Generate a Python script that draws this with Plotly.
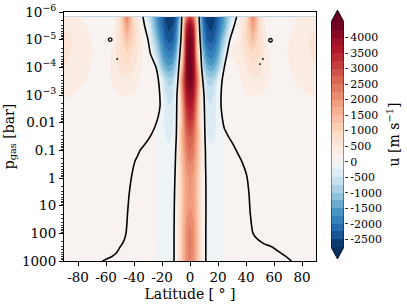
import numpy as np
import plotly.graph_objects as go

# ---------------- data ----------------
lat = [-90, -85, -80, -75, -70, -65, -60, -55, -50, -45, -40, -35, -30, -25, -20,
       -17.5, -15, -12.5, -10, -7.5, -5, -2.5, 0, 2.5, 5, 7.5, 10, 12.5, 15, 17.5,
       20, 25, 30, 35, 40, 45, 50, 55, 60, 65, 70, 75, 80, 85, 90]

p_bar = [1.5e-6, 3e-6, 1e-5, 3e-5, 1e-4, 3e-4, 1e-3, 3e-3, 1e-2, 3e-2,
         0.1, 0.3, 1, 10, 100, 1000]

# zonal wind u [m/s], one row per pressure level, one column per latitude
u_wind = [
    [350, 330, 280, 220, 150, 100, 80, 60, 700, 2300, 650, 150, -500, -1400, -2200, -2550, -2700, -2650, -2300, -1300, 600, 2400, 3100,
     2400, 1000, -1300, -2300, -2650, -2700, -2550, -2200, -1400, -450, 150, 650, 2300, 700, 60, 80, 100, 150, 220, 280, 330, 350],
    [450, 400, 330, 260, 180, 100, 80, 100, 750, 1900, 800, 200, -250, -1300, -2100, -2450, -2600, -2500, -2100, -1000, 900, 3300, 4000,
     3300, 1100, -1000, -2100, -2500, -2600, -2450, -2100, -1300, -200, 200, 800, 1900, 750, 100, 80, 100, 180, 260, 330, 400, 450],
    [700, 500, 380, 300, 240, 150, 80, 200, 750, 1350, 900, 300, -20, -900, -1800, -2200, -2350, -2250, -1800, -800, 1200, 3900, 4400,
     3900, 1300, -800, -1800, -2250, -2350, -2200, -1800, -800, 200, 300, 900, 1350, 750, 200, 80, 150, 240, 300, 380, 500, 700],
    [650, 480, 380, 320, 260, 180, 120, 300, 750, 950, 700, 270, 200, -500, -1500, -1800, -1950, -1850, -1400, -250, 1400, 4000, 4450,
     4000, 1500, -250, -1400, -1850, -1950, -1800, -1500, -300, 250, 300, 700, 950, 750, 300, 120, 180, 260, 320, 380, 480, 650],
    [500, 420, 350, 300, 230, 150, 150, 320, 580, 680, 520, 260, 150, 100, -1000, -1350, -1450, -1350, -900, 300, 2000, 4100, 4500,
     4100, 2200, 300, -900, -1350, -1450, -1350, -1000, 100, 150, 260, 520, 680, 580, 320, 150, 150, 230, 300, 350, 420, 500],
    [400, 350, 300, 260, 180, 120, 130, 290, 420, 440, 370, 210, 150, 150, -250, -700, -850, -800, -300, 900, 2600, 4000, 4400,
     4000, 2600, 900, -300, -800, -850, -700, -250, 150, 150, 210, 370, 440, 420, 290, 130, 120, 180, 260, 300, 350, 400],
    [280, 260, 220, 180, 130, 100, 100, 200, 250, 250, 240, 150, 120, 120, -100, -450, -600, -550, -150, 700, 2300, 3700, 4000,
     3700, 2300, 700, -50, -550, -600, -450, -100, 120, 120, 150, 240, 250, 250, 200, 100, 100, 130, 180, 220, 260, 280],
    [100, 100, 100, 100, 100, 100, 100, 100, 100, 100, 100, 100, 100, 100, -80, -350, -450, -400, -100, 600, 2000, 3300, 3600,
     3300, 2000, 600, -80, -400, -450, -350, -80, 100, 100, 100, 100, 100, 100, 100, 100, 100, 100, 100, 100, 100, 100],
    [100, 100, 100, 100, 100, 100, 100, 100, 100, 100, 100, 100, 100, 60, -150, -300, -350, -300, -50, 600, 1800, 2900, 3200,
     2900, 1800, 600, -30, -300, -350, -300, -150, 60, 100, 100, 100, 100, 100, 100, 100, 100, 100, 100, 100, 100, 100],
    [100, 100, 100, 100, 100, 100, 100, 100, 100, 100, 100, 100, 100, 40, -150, -250, -280, -250, -100, 900, 1800, 2550, 2800,
     2550, 1800, 900, -80, -250, -280, -250, -150, 40, 100, 100, 100, 100, 100, 100, 100, 100, 100, 100, 100, 100, 100],
    [100, 100, 100, 100, 100, 100, 100, 100, 100, 100, 100, 100, 100, 50, -150, -200, -220, -200, 20, 850, 1650, 2300, 2500,
     2300, 1650, 850, 60, -200, -220, -200, -150, 50, 100, 100, 100, 100, 100, 100, 100, 100, 100, 100, 100, 100, 100],
    [100, 100, 100, 100, 100, 100, 100, 100, 100, 100, 100, 100, 100, 50, -150, -180, -190, -180, 60, 800, 1500, 2100, 2250,
     2100, 1500, 800, 80, -180, -190, -180, -150, 50, 100, 100, 100, 100, 100, 100, 100, 100, 100, 100, 100, 100, 100],
    [100, 100, 100, 100, 100, 100, 100, 100, 100, 100, 100, 100, 100, 50, -150, -170, -170, -150, 100, 720, 1350, 1900, 2050,
     1900, 1350, 720, 110, -150, -170, -170, -150, 50, 100, 100, 100, 100, 100, 100, 100, 100, 100, 100, 100, 100, 100],
    [100, 100, 100, 100, 100, 100, 100, 100, 100, 100, 100, 100, 100, 50, -150, -170, -170, -150, 130, 700, 1330, 1850, 2000,
     1850, 1330, 700, 130, -150, -170, -170, -150, 50, 100, 100, 100, 100, 100, 100, 100, 100, 100, 100, 100, 100, 100],
    [100, 100, 100, 100, 100, 100, 100, 100, 100, 100, 100, 100, 100, 50, -150, -170, -170, -150, 140, 780, 1450, 2100, 2350,
     2100, 1450, 780, 140, -150, -170, -170, -150, 50, 100, 100, 100, 100, 100, 100, 100, 100, 100, 100, 100, 100, 100],
    [100, 100, 100, 100, 100, 100, 100, 100, 100, 100, 100, 100, 100, 50, -150, -170, -170, -150, 140, 760, 1420, 2050, 2300,
     2050, 1420, 760, 140, -150, -170, -170, -150, 50, 100, 100, 100, 100, 100, 100, 100, 100, 100, 100, 100, 100, 100],
]

# black contour curves (latitude in deg, pressure in bar)
outer_left_lat = [-33.6, -32.4, -30.0, -28.3, -24.3, -22.6, -21.6, -21.4, -22.8, -25.5, -28.5, -32.5, -35.7,
                  -37.5, -39.3, -41.6, -43.5, -44.5, -45.7, -47.5, -50.0, -52.5, -56.0, -60.5, -62.5]
outer_left_p = [1.5e-6, 3.2e-6, 1e-5, 3.2e-5, 1e-4, 2.8e-4, 1e-3, 2.5e-3, 6.3e-3, 0.016, 0.032, 0.063, 0.1,
                0.16, 0.25, 0.8, 4, 16, 100, 200, 316, 500, 700, 890, 1000]
outer_right_lat = [33.3, 31.5, 28.5, 26.5, 24.5, 23.0, 22.2, 22.2, 23.0, 24.5, 27.5, 31.0, 33.0,
                   35.0, 37.0, 40.5, 42.2, 42.9, 45.0, 48.6, 53.0, 58.0, 64.5, 69.5, 72.5]
outer_right_p = [1.5e-6, 3.2e-6, 1e-5, 3.2e-5, 1e-4, 2.8e-4, 1e-3, 2.5e-3, 6.3e-3, 0.016, 0.032, 0.063, 0.1,
                 0.16, 0.25, 0.8, 4, 16, 100, 170, 240, 300, 500, 750, 1000]
inner_left_lat = [-5.9, -6.1, -6.5, -7.2, -8.0, -8.7, -9.3, -9.5, -9.6, -9.8, -10.2, -10.5, -10.8, -11.2, -11.4, -11.4]
inner_right_lat = [6.5, 6.8, 7.2, 7.8, 8.3, 9.2, 10.0, 10.3, 10.5, 10.7, 11.0, 11.1, 11.3, 11.4, 11.3, 11.3]
inner_p = [1.5e-6, 3.2e-6, 1e-5, 3.2e-5, 1e-4, 3.2e-4, 1e-3, 3.2e-3, 1e-2, 3.2e-2, 0.1, 0.32, 1, 10, 100, 1000]
loop_lat = [-57.0, 57.5]
loop_p = [1.0e-5, 1.05e-5]
dot_lat = [-52.0, 52.1, 50.0]
dot_p = [5e-5, 5e-5, 7.6e-5]

x_ticks = [-80, -60, -40, -20, 0, 20, 40, 60, 80]
x_ticktext = ["-80", "-60", "-40", "-20", "0", "20", "40", "60", "80"]
y_ticks_p = [1e-6, 1e-5, 1e-4, 1e-3, 1e-2, 0.1, 1, 10, 100, 1000]
y_ticktext = ["10<sup>−6</sup>", "10<sup>−5</sup>", "10<sup>−4</sup>", "10<sup>−3</sup>",
              "0.01", "0.1", "1", "10", "100", "1000"]
cb_ticks = [-2500, -2000, -1500, -1000, -500, 0, 500, 1000, 1500, 2000, 2500, 3000, 3500, 4000]
cb_ticktext = ["-2500", "-2000", "-1500", "-1000", "-500", "0", "500", "1000",
               "1500", "2000", "2500", "3000", "3500", "4000"]

# ---------------- styling ----------------
FONT = "DejaVu Serif"
RDBU_R = ["#053061", "#2166ac", "#4393c3", "#92c5de", "#d1e5f0", "#f7f7f7",
          "#fddbc7", "#f4a582", "#d6604d", "#b2182b", "#67001f"]
VMIN, VMAX = -2750, 4500            # colour-bar limits (outer contour levels)
LEV_STEP = 250
LEV_START, LEV_END = VMIN + LEV_STEP, VMAX - LEV_STEP   # interior levels passed to plotly


def hex2rgb(h):
    h = h.lstrip("#")
    return [int(h[i:i + 2], 16) for i in (0, 2, 4)]


def cmap(t):
    t = min(max(t, 0.0), 1.0)
    pos = t * 10
    i = min(int(pos), 9)
    f = pos - i
    a, b = hex2rgb(RDBU_R[i]), hex2rgb(RDBU_R[i + 1])
    return "rgb(%d,%d,%d)" % tuple(round(x + (y - x) * f) for x, y in zip(a, b))


def norm(v):
    return 0.5 * (1 + v / VMAX) if v >= 0 else 0.5 * (1 + v / (-VMIN))


n_bands = int(round((VMAX - VMIN) / LEV_STEP))
band_edges = [VMIN + LEV_STEP * k for k in range(n_bands + 1)]
band_mids = [VMIN + LEV_STEP * (k + 0.5) for k in range(n_bands)]
band_colors = [cmap(norm(m)) for m in band_mids]
colorscale = [[k / (n_bands - 1), c] for k, c in enumerate(band_colors)]

# pixel geometry (whole figure uses zero margins, axes placed by domain)
W, H = 407, 304
L, R, T, B = 64, 316, 12, 261          # main plot box
CB_L, CB_R, CB_T, CB_B = 331, 344, 22, 247   # colour bar rectangle
TRI = 12                                 # extension triangle height


def dom_x(a, b):
    return [a / W, b / W]


def dom_y(top, bot):
    return [(H - bot) / H, (H - top) / H]


k_px = (CB_B - CB_T) / (VMAX - VMIN)
cb_lo = VMIN - TRI / k_px
cb_hi = VMAX + TRI / k_px

y_log = np.log10(p_bar)

fig = go.Figure()
fig.add_trace(go.Contour(
    x=lat, y=y_log, z=u_wind,
    colorscale=colorscale, showscale=False,
    autocontour=False,
    contours=dict(start=LEV_START, end=LEV_END, size=LEV_STEP, coloring="fill", showlines=False),
    line=dict(width=0, smoothing=0.8),
    hoverinfo="skip",
))

line_style = dict(color="black", width=1.6, shape="spline", smoothing=0.6)
for la, pp in [(outer_left_lat, outer_left_p), (outer_right_lat, outer_right_p),
               (inner_left_lat, inner_p), (inner_right_lat, inner_p)]:
    fig.add_trace(go.Scatter(x=la, y=np.log10(pp), mode="lines", line=line_style,
                             hoverinfo="skip", showlegend=False))
fig.add_trace(go.Scatter(x=loop_lat, y=np.log10(loop_p), mode="markers",
                         marker=dict(symbol="circle-open", size=3.5, color="black", line=dict(width=1.3)),
                         hoverinfo="skip", showlegend=False))
fig.add_trace(go.Scatter(x=dot_lat, y=np.log10(dot_p), mode="markers",
                         marker=dict(symbol="circle", size=1.8, color="black"),
                         hoverinfo="skip", showlegend=False))

# ---- colour bar drawn on its own axes ----
fig.add_trace(go.Heatmap(
    x=[0, 1], y=band_edges, z=[[k] for k in range(n_bands)],
    zmin=0, zmax=n_bands - 1, colorscale=colorscale, showscale=False,
    xaxis="x2", yaxis="y2", hoverinfo="skip",
))
fig.add_trace(go.Scatter(x=[0, 1, 0.5, 0], y=[VMAX, VMAX, cb_hi, VMAX], mode="lines",
                         fill="toself", fillcolor=cmap(1.0), line=dict(width=0),
                         xaxis="x2", yaxis="y2", hoverinfo="skip", showlegend=False))
fig.add_trace(go.Scatter(x=[0, 1, 0.5, 0], y=[VMIN, VMIN, cb_lo, VMIN], mode="lines",
                         fill="toself", fillcolor=cmap(0.0), line=dict(width=0),
                         xaxis="x2", yaxis="y2", hoverinfo="skip", showlegend=False))
fig.add_trace(go.Scatter(x=[0, 0, 0.5, 1, 1, 0.5, 0], y=[VMIN, VMAX, cb_hi, VMAX, VMIN, cb_lo, VMIN],
                         mode="lines", line=dict(color="black", width=0.8),
                         xaxis="x2", yaxis="y2", hoverinfo="skip", showlegend=False))

minor_vals = [float(np.log10(k * 10.0 ** n)) for n in range(-6, 3) for k in range(2, 10)]

fig.update_layout(
    width=W, height=H,
    margin=dict(l=0, r=0, t=0, b=0, autoexpand=False),
    paper_bgcolor="white", plot_bgcolor="white",
    font=dict(family=FONT, size=13.5, color="black"),
    showlegend=False,
    xaxis=dict(
        domain=dom_x(L, R), anchor="y",
        range=[-90, 90], tickmode="array", tickvals=x_ticks, ticktext=x_ticktext,
        ticks="outside", ticklen=4, tickwidth=1, tickcolor="black",
        showline=True, mirror=True, linecolor="black", linewidth=1,
        showgrid=False, zeroline=False,
        tickfont=dict(family=FONT, size=13.5),
        title=dict(text="Latitude [ ° ]", font=dict(family=FONT, size=14), standoff=4),
    ),
    yaxis=dict(
        domain=dom_y(T, B), anchor="x",
        range=[3, -6], tickmode="array", tickvals=list(np.log10(y_ticks_p)), ticktext=y_ticktext,
        ticks="outside", ticklen=4, tickwidth=1, tickcolor="black",
        minor=dict(tickvals=minor_vals, ticks="outside", ticklen=2, tickwidth=0.8, tickcolor="black"),
        showline=True, mirror=True, linecolor="black", linewidth=1,
        showgrid=False, zeroline=False,
        tickfont=dict(family=FONT, size=13.5),
        title=dict(text="p<sub>gas</sub> [bar]", font=dict(family=FONT, size=14), standoff=4),
    ),
    xaxis2=dict(
        domain=dom_x(CB_L, CB_R), anchor="y2", range=[0, 1],
        visible=False, fixedrange=True,
    ),
    yaxis2=dict(
        domain=dom_y(CB_T - TRI, CB_B + TRI), anchor="x2", side="right",
        range=[cb_lo, cb_hi], tickmode="array", tickvals=cb_ticks, ticktext=cb_ticktext,
        ticks="outside", ticklen=3, tickwidth=0.8, tickcolor="black",
        showline=False, showgrid=False, zeroline=False, fixedrange=True,
        tickfont=dict(family=FONT, size=11),
        title=dict(text="u [m s<sup>−1</sup>]", font=dict(family=FONT, size=14), standoff=8),
    ),
)

fig.write_html("out.html", config={"displayModeBar": False, "staticPlot": True},
               post_script="document.body.style.margin='0';document.body.style.padding='0';")
